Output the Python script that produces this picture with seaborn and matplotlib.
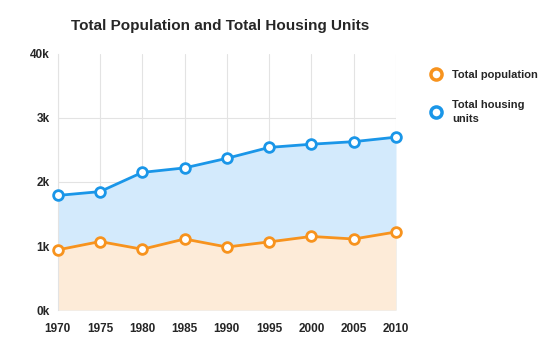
import pandas as pd
import numpy as np
import matplotlib.pyplot as plt
import seaborn as sns
from matplotlib.lines import Line2D

# datos
years = [1970, 1975, 1980, 1985, 1990, 1995, 2000, 2005, 2010]
population = [940, 1070, 950, 1110, 985, 1065, 1150, 1110, 1220]
housing = [1790, 1850, 2150, 2220, 2370, 2540, 2590, 2630, 2700]
ytick_vals = [0, 1000, 2000, 3000, 4000]
ytick_labels = ['0k', '1k', '2k', '3k', '40k']

orange = '#F7931E'
blue = '#1A96E8'

df = pd.DataFrame({'year': years, 'Total population': population, 'Total housing units': housing})

sns.set_style('white')
plt.rcParams['font.family'] = ['Liberation Sans', 'DejaVu Sans']

fig = plt.figure(figsize=(5.5, 3.5), dpi=100)
ax = fig.add_axes([0.105, 0.114, 0.615, 0.732])

# areas
ax.fill_between(df['year'], df['Total housing units'], 0, color='#D3EAFC', lw=0)
ax.fill_between(df['year'], df['Total population'], 0, color='#FDEBD8', lw=0)

sns.lineplot(data=df, x='year', y='Total housing units', ax=ax, color=blue, lw=2,
             marker='o', markersize=7, markerfacecolor='white', markeredgecolor=blue,
             markeredgewidth=2, clip_on=False, zorder=5)
sns.lineplot(data=df, x='year', y='Total population', ax=ax, color=orange, lw=2,
             marker='o', markersize=7, markerfacecolor='white', markeredgecolor=orange,
             markeredgewidth=2, clip_on=False, zorder=5)

ax.set_xlim(years[0], years[-1])
ax.set_ylim(0, 4000)
ax.set_xticks(years)
ax.set_xticklabels([str(y) for y in years], fontweight='bold', fontsize=8.5)
ax.set_yticks(ytick_vals)
ax.set_yticklabels(ytick_labels, fontweight='bold', fontsize=8.5)
ax.tick_params(axis='x', length=0, pad=9)
ax.tick_params(axis='y', length=0, pad=6)
ax.set_xlabel('')
ax.set_ylabel('')
ax.grid(True, color='#E3E3E3', lw=0.8)
ax.set_axisbelow(True)
ax.yaxis.get_gridlines()[-1].set_visible(False)
for s in ['top', 'right', 'bottom']:
    ax.spines[s].set_visible(False)
ax.spines['left'].set_color('#E3E3E3')

fig.text(0.4, 0.925, 'Total Population and Total Housing Units', ha='center',
         va='center', fontsize=11, fontweight='bold')

handles = [Line2D([], [], ls='none', marker='o', markersize=8, markerfacecolor='white',
                  markeredgecolor=orange, markeredgewidth=2.5),
           Line2D([], [], ls='none', marker='o', markersize=8, markerfacecolor='white',
                  markeredgecolor=blue, markeredgewidth=2.5)]
leg = fig.legend(handles, ['Total population', 'Total housing\nunits'], loc='upper left',
                 bbox_to_anchor=(0.755, 0.83), frameon=False, labelspacing=1.8,
                 handletextpad=0.4, prop={'weight': 'bold', 'size': 8})
for t in leg.get_texts():
    t.set_linespacing(1.5)

fig.savefig('out.png', dpi=100)
